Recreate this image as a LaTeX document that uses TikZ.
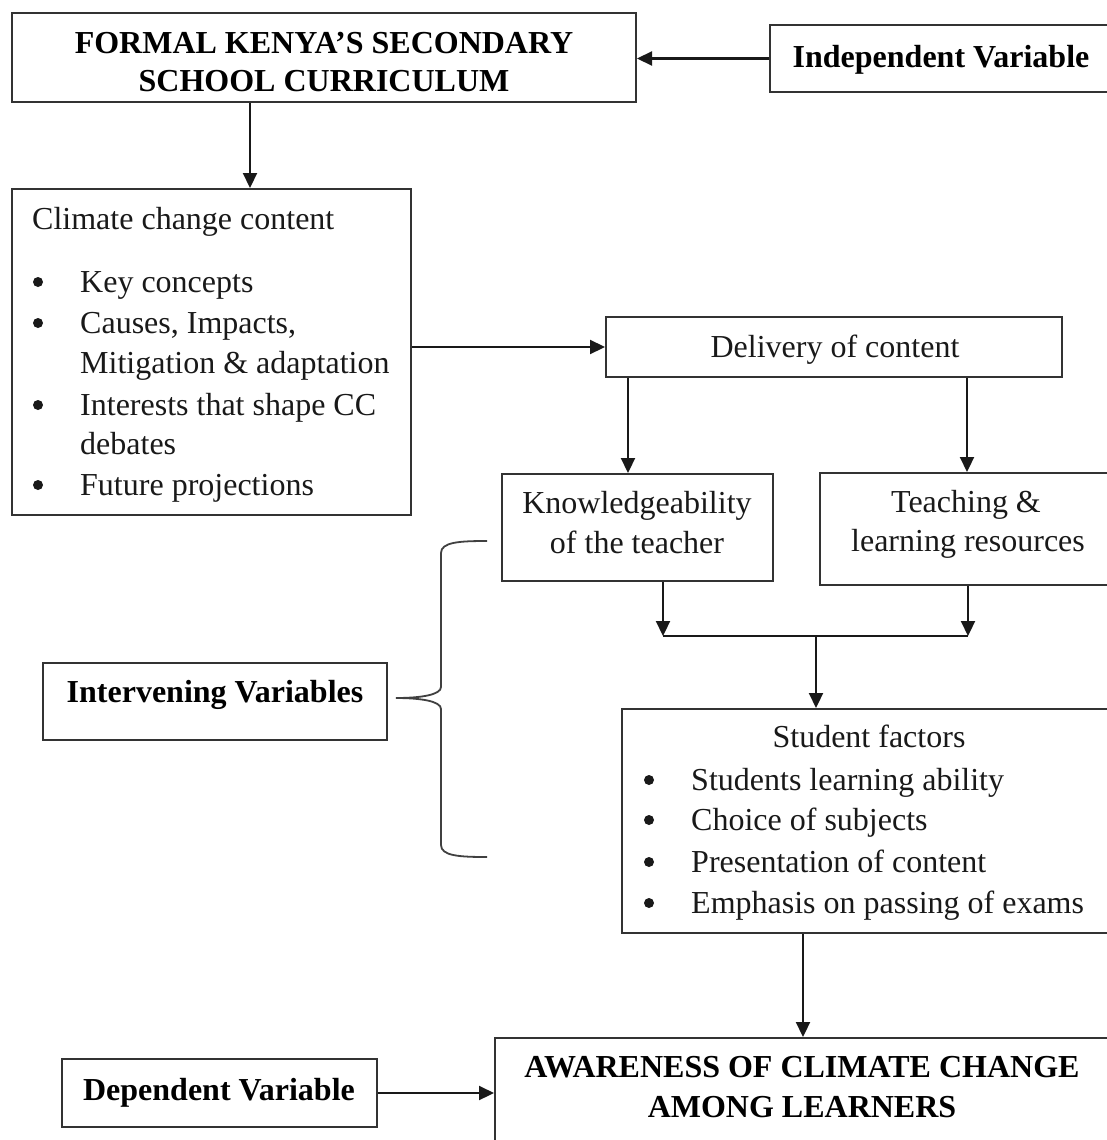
\documentclass[tikz,border=0pt]{standalone}
\usepackage{fontspec}
\setmainfont{Liberation Serif}
\usetikzlibrary{arrows.meta}
\begin{document}
\begin{tikzpicture}[x=1pt,y=-1pt,
  box/.style={draw=black!80, line width=2pt, inner sep=0pt},
  txt/.style={font=\fontsize{32}{40}\selectfont, inner sep=0pt, text=black!90},
  btxt/.style={font=\fontsize{32}{38}\selectfont\bfseries, inner sep=0pt, text=black},
  bul/.style={circle, fill=black!90, inner sep=0pt, minimum size=10pt},
  arr/.style={draw=black!90, line width=2.2pt, -{Triangle[width=14pt,length=15pt]}},
  ln/.style={draw=black!90, line width=2.2pt},
  bracepath/.style={draw=black!75, line width=1.8pt}]

\useasboundingbox (0,0) rectangle (1107,1140);
\clip (0,0) rectangle (1107,1140);
\fill[white] (0,0) rectangle (1107,1140);

% ---------- boxes ----------
\node[box, minimum width=624pt, minimum height=89pt] (formal) at (324,57.5) {};
\node[box, minimum width=340pt, minimum height=67pt] (indep) at (940,58.5) {};
\node[box, minimum width=399pt, minimum height=326pt] (climate) at (211.5,352) {};
\node[box, minimum width=456pt, minimum height=60pt] (deliv) at (834,347) {};
\node[box, minimum width=271pt, minimum height=107pt] (know) at (637.5,527.5) {};
\node[box, minimum width=290pt, minimum height=112pt] (teach) at (965,529) {};
\node[box, minimum width=344pt, minimum height=77pt] (inter) at (215,701.5) {};
\node[box, minimum width=488pt, minimum height=224pt] (student) at (866,821) {};
\node[box, minimum width=615pt, minimum height=112pt] (aware) at (802.5,1094) {};
\node[box, minimum width=315pt, minimum height=68pt] (dep) at (219.5,1093) {};

% ---------- texts ----------
\node[btxt, anchor=base] (formal1) at (324,53) {FORMAL KENYA'S SECONDARY};
\node[btxt, anchor=base] (formal2) at (324,91) {SCHOOL CURRICULUM};
\node[btxt, anchor=base] (indept) at (941,67) {Independent Variable};

\node[txt, anchor=base west] (cl0) at (32,229) {Climate change content};
\node[bul] (clb1) at (38,282) {};
\node[bul] (clb2) at (38,323) {};
\node[bul] (clb3) at (38,405) {};
\node[bul] (clb4) at (38,485) {};
\node[txt, anchor=base west] (cl1) at (80,292) {Key concepts};
\node[txt, anchor=base west] (cl2) at (80,333) {Causes, Impacts,};
\node[txt, anchor=base west] (cl3) at (80,373) {Mitigation \& adaptation};
\node[txt, anchor=base west] (cl4) at (80,415) {Interests that shape CC};
\node[txt, anchor=base west] (cl5) at (80,454) {debates};
\node[txt, anchor=base west] (cl6) at (80,495) {Future projections};

\node[txt, anchor=base] (delivt) at (835,357) {Delivery of content};
\node[txt, anchor=base] (know1) at (637,513) {Knowledgeability};
\node[txt, anchor=base] (know2) at (637,553) {of the teacher};
\node[txt, anchor=base] (teach1) at (966,512) {Teaching \&};
\node[txt, anchor=base] (teach2) at (968,551) {learning resources};

\node[btxt, anchor=base] (intert) at (215,702) {Intervening Variables};

\node[txt, anchor=base] (st0) at (869,747) {Student factors};
\node[bul] (stb1) at (649,780) {};
\node[bul] (stb2) at (649,820) {};
\node[bul] (stb3) at (649,862) {};
\node[bul] (stb4) at (649,903) {};
\node[txt, anchor=base west] (st1) at (691,790) {Students learning ability};
\node[txt, anchor=base west] (st2) at (691,830) {Choice of subjects};
\node[txt, anchor=base west] (st3) at (691,872) {Presentation of content};
\node[txt, anchor=base west] (st4) at (691,913) {Emphasis on passing of exams};

\node[btxt, anchor=base] (aware1) at (802,1077) {AWARENESS OF CLIMATE CHANGE};
\node[btxt, anchor=base] (aware2) at (802,1117) {AMONG LEARNERS};
\node[btxt, anchor=base] (dept) at (219,1100) {Dependent Variable};

% ---------- connectors ----------
\coordinate (f1) at (250,0);
\coordinate (d1) at (628,0);
\coordinate (d2) at (967,0);
\coordinate (jl) at (663,636);
\coordinate (jr) at (968,636);
\coordinate (jm) at (816,636);
\coordinate (s1) at (803,0);

\draw[arr] (indep.west) -- (indep.west -| formal.east);
\draw[arr] (f1 |- formal.south) -- (f1 |- climate.north);
\draw[arr] (climate.east |- deliv.west) -- (deliv.west);
\draw[arr] (d1 |- deliv.south) -- (d1 |- know.north);
\draw[arr] (d2 |- deliv.south) -- (d2 |- teach.north);
\draw[arr] (jl |- know.south) -- (jl);
\draw[arr] (jr |- teach.south) -- (jr);
\draw[ln] (jl) -- (jr);
\draw[arr] (jm) -- (jm |- student.north);
\draw[arr] (s1 |- student.south) -- (s1 |- aware.north);
\draw[arr] (dep.east) -- (dep.east -| aware.west);

% ---------- brace ----------
\coordinate (b1) at (487,541);
\coordinate (bm) at (396,698);
\coordinate (b2) at (487,857);
\draw[bracepath] (b1) .. controls (460,541) and (441,542) .. (441,553)
  -- (441,687) .. controls (441,695) and (420,698) .. (bm)
  .. controls (420,698) and (441,701) .. (441,709)
  -- (441,845) .. controls (441,856) and (460,857) .. (b2);
\end{tikzpicture}
\end{document}
